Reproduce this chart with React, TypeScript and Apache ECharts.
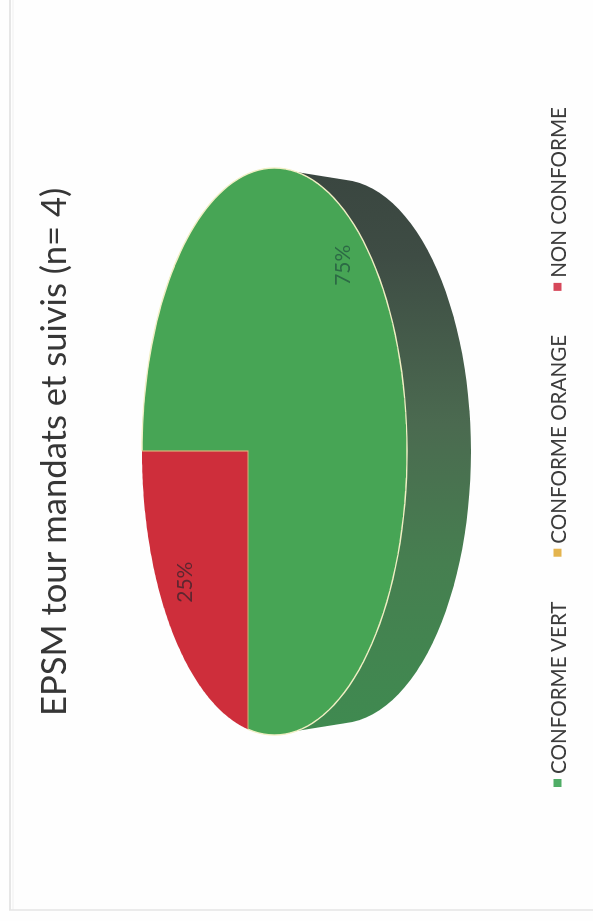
import React, { useEffect, useRef } from "react";
import * as echarts from "echarts";

const TITLE = "EPSM tour mandats et suivis (n= 4)";
const CATEGORIES = ["CONFORME VERT", "CONFORME ORANGE", "NON CONFORME"];
const SHARES = [75, 0, 25];
const SLICE_COLORS = ["#47a555", "#e6b13c", "#ce2e3b"];
const LEGEND_COLORS = ["#50ad66", "#e4b44e", "#d6475a"];
const LABEL_COLORS = ["#2c6a45", "#000000", "#5e2630"];
const LABEL_REACH = [0.82, 0, 0.77];
const LABEL_NUDGE = [7, 0, -3];

// The chart is laid out in landscape and turned a quarter turn on the page.
const CHART_W = 921;
const CHART_H = 593;

// Tilted disc: top face, the slices' common apex and the extruded wall.
const FACE = { cx: 469.5, cy: 274.5, rx: 283.5, ry: 132.5 };
const APEX = { x: 470, y: 248 };
const WALL = { cx: 469.5, cy: 338.5, rx: 272, ry: 132.5, attach: 22.5 };
const TILT = FACE.ry / FACE.rx;

const total = SHARES.reduce((a, b) => a + b, 0);

// Point where the ray from the apex at a clockwise angle from 12 o'clock meets the rim.
function rimPoint(angle: number): [number, number] {
  const dx = Math.sin(angle);
  const dy = -Math.cos(angle) * TILT;
  const ox = (APEX.x - FACE.cx) / FACE.rx;
  const oy = (APEX.y - FACE.cy) / FACE.ry;
  const ax = dx / FACE.rx;
  const ay = dy / FACE.ry;
  const a = ax * ax + ay * ay;
  const b = 2 * (ox * ax + oy * ay);
  const c = ox * ox + oy * oy - 1;
  const t = (-b + Math.sqrt(b * b - 4 * a * c)) / (2 * a);
  return [APEX.x + dx * t, APEX.y + dy * t];
}

function wallPoints(): number[][] {
  const pts: number[][] = [];
  const dv = WALL.attach / FACE.ry;
  const du = FACE.rx * Math.sqrt(1 - dv * dv);
  pts.push([FACE.cx + du, FACE.cy + WALL.attach]);
  for (let deg = 87; deg >= -87; deg -= 3) {
    const r = (deg * Math.PI) / 180;
    pts.push([WALL.cx + WALL.rx * Math.sin(r), WALL.cy + WALL.ry * Math.cos(r)]);
  }
  pts.push([FACE.cx - du, FACE.cy + WALL.attach]);
  return pts;
}

function sliceRenderer(index: number) {
  const before = SHARES.slice(0, index).reduce((a, b) => a + b, 0);
  return (_params: any, api: any) => {
    const value = api.value(0);
    const children: any[] = [];
    if (index === 0) {
      children.push({
        type: "polygon",
        shape: { points: wallPoints() },
        style: {
          fill: new echarts.graphic.LinearGradient(0, 0, 1, 0, [
            { offset: 0, color: "#3f8a50" },
            { offset: 0.3, color: "#467f50" },
            { offset: 0.55, color: "#4b6a50" },
            { offset: 0.85, color: "#3e4c44" },
            { offset: 1, color: "#3a4640" },
          ]),
        },
      });
    }
    if (value > 0) {
      const start = (before / total) * 2 * Math.PI;
      const sweep = (value / total) * 2 * Math.PI;
      const rimArc: number[][] = [];
      const steps = 120;
      for (let i = 0; i <= steps; i++) {
        rimArc.push(rimPoint(start + (sweep * i) / steps));
      }
      children.push({
        type: "polygon",
        shape: { points: [[APEX.x, APEX.y], ...rimArc] },
        style: { fill: SLICE_COLORS[index] },
      });
      if (index === 0) {
        // Pale highlight running along the rim of the larger slice.
        children.push({
          type: "polyline",
          shape: { points: rimArc },
          style: { fill: "none", stroke: "#f1efc4", lineWidth: 1.4 },
        });
      } else {
        // Tan seams along the two straight edges of the smaller slice.
        children.push({
          type: "polyline",
          shape: { points: [rimArc[0], [APEX.x, APEX.y], rimArc[rimArc.length - 1]] },
          style: { fill: "none", stroke: "#dcae78", lineWidth: 1.2 },
        });
      }
      const rim = rimPoint(start + sweep / 2);
      children.push({
        type: "text",
        x: APEX.x + (rim[0] - APEX.x) * LABEL_REACH[index],
        y: APEX.y + (rim[1] - APEX.y) * LABEL_REACH[index] + LABEL_NUDGE[index],
        style: {
          text: `${value}%`,
          fontFamily: "Lato",
          fontSize: 21,
          fill: LABEL_COLORS[index],
          align: "center",
          verticalAlign: "middle",
        },
      });
    }
    return { type: "group", children };
  };
}

export default function App() {
  const ref = useRef<HTMLDivElement>(null);

  useEffect(() => {
    const chart = echarts.init(ref.current!, undefined, { renderer: "svg" });
    chart.setOption({
      animation: false,
      backgroundColor: "#fefefe",
      title: {
        text: TITLE,
        left: 205,
        top: 35,
        padding: 0,
        textStyle: { fontFamily: "Lato", fontSize: 34.6, fontWeight: "normal", color: "#363636" },
      },
      legend: {
        left: 134,
        top: 547,
        padding: 0,
        icon: "rect",
        itemWidth: 8,
        itemHeight: 8,
        itemGap: 44,
        data: CATEGORIES.map((name, i) => ({ name, itemStyle: { color: LEGEND_COLORS[i] } })),
        textStyle: { fontFamily: "Lato", fontSize: 20.6, color: "#3c3c3c" },
      },
      graphic: [
        { type: "line", shape: { x1: CHART_W, y1: 10, x2: 11, y2: 10 }, style: { stroke: "#e6e6e6", lineWidth: 2 } },
        { type: "line", shape: { x1: CHART_W, y1: 13, x2: 11, y2: 13 }, style: { stroke: "#f0f0f0", lineWidth: 1 } },
        { type: "line", shape: { x1: 11, y1: 9, x2: 11, y2: CHART_H }, style: { stroke: "#e4e4e4", lineWidth: 1.5 } },
      ],
      series: CATEGORIES.map((name, i) => ({
        type: "custom",
        name,
        coordinateSystem: "none",
        itemStyle: { color: SLICE_COLORS[i] },
        data: [[SHARES[i]]],
        renderItem: sliceRenderer(i),
      })),
    });
    return () => chart.dispose();
  }, []);

  return (
    <div
      ref={ref}
      style={{
        position: "fixed",
        left: 0,
        top: 0,
        width: CHART_W,
        height: CHART_H,
        transformOrigin: "top left",
        transform: `translate(0px, ${CHART_W}px) rotate(-90deg)`,
      }}
    />
  );
}
